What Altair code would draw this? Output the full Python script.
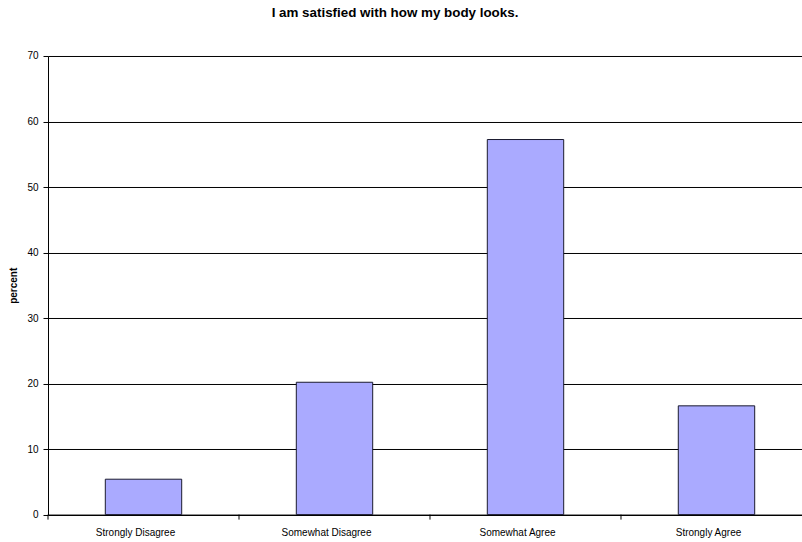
import altair as alt
import pandas as pd

# Survey responses: share of respondents per answer
categories = ["Strongly Disagree", "Somewhat Disagree", "Somewhat Agree", "Strongly Agree"]
percents = [5.4, 20.2, 57.25, 16.6]
y_ticks = [0, 10, 20, 30, 40, 50, 60, 70]

df = pd.DataFrame({"answer": categories, "percent": percents})

W, H = 754, 458.6
X_SPAN = 764  # the category axis runs a little past the right edge
FONT = "Liberation Sans"

x_scale = alt.Scale(domain=categories, paddingInner=0, paddingOuter=0, range=[0, X_SPAN])
y_scale = alt.Scale(domain=[0, 70], nice=False)

bars = alt.Chart(df).mark_bar(
    width=alt.RelativeBandSize(0.4),
    fill="#aaaaff",
    stroke="#1a1a2e",
    strokeWidth=1,
).encode(
    x=alt.X(
        "answer:N",
        sort=categories,
        scale=x_scale,
        axis=alt.Axis(
            title=None,
            labelAngle=0,
            ticks=False,
            labelPadding=13,
            labelOffset=-8,
            labelFontSize=10,
            labelFont=FONT,
            labelColor="#000000",
            domainColor="#000000",
            grid=False,
        ),
    ),
    y=alt.Y(
        "percent:Q",
        scale=y_scale,
        axis=alt.Axis(
            title="percent",
            values=y_ticks,
            titleFont=FONT,
            titleFontSize=10,
            titleFontWeight="bold",
            titleColor="#000000",
            titlePadding=8,
            labelFont=FONT,
            labelFontSize=10,
            labelColor="#000000",
            labelPadding=5,
            tickSize=5,
            tickColor="#000000",
            domainColor="#000000",
            grid=True,
            gridColor="#000000",
            gridWidth=1,
        ),
    ),
)

# Category separator ticks below the x axis
sep = alt.Chart(df).mark_rule(color="#000000", strokeWidth=1).encode(
    x=alt.X("answer:N", sort=categories, scale=x_scale, bandPosition=0),
    y=alt.value(H),
    y2=alt.value(H + 5),
)

chart = (
    alt.layer(bars, sep)
    .properties(
        width=W,
        height=H,
        autosize=alt.AutoSizeParams(type="none"),
        padding={"left": 48, "top": 56, "right": 0, "bottom": 27},
        title=alt.TitleParams(
            "I am satisfied with how my body looks.",
            font=FONT,
            fontSize=13.4,
            fontWeight="bold",
            color="#000000",
            anchor="middle",
            offset=32,
            dx=-30,
        ),
    )
    .configure_view(stroke=None)
    .configure(background="#ffffff")
)

chart.save("out.html", embed_options={"renderer": "svg", "actions": False})
